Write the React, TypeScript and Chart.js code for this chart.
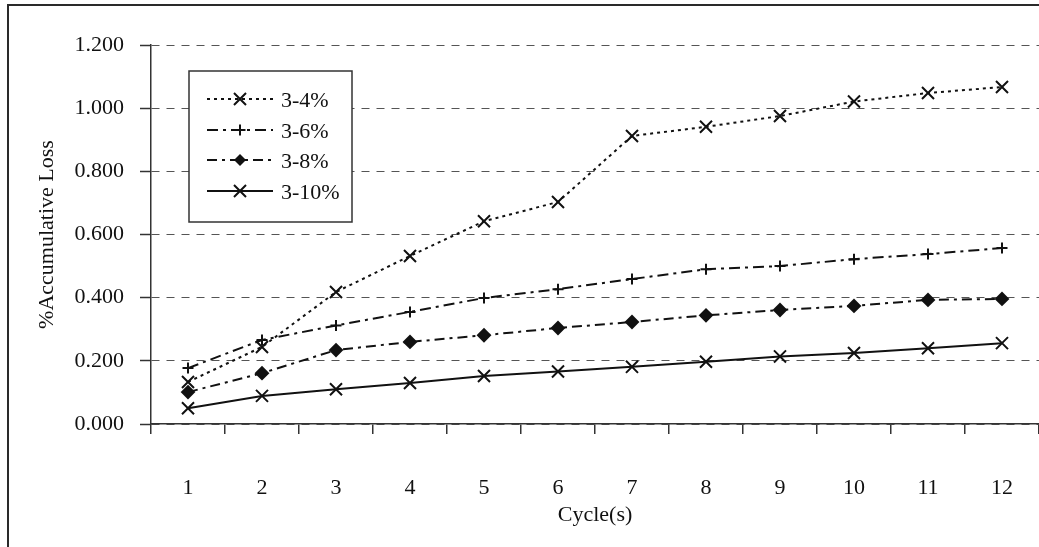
import { useEffect, useRef } from 'react';
import { Chart, registerables } from 'chart.js';

Chart.register(...registerables);

// Cycle numbers on the category axis
const cycles = ['1', '2', '3', '4', '5', '6', '7', '8', '9', '10', '11', '12'];

// Accumulative loss (%) per cycle for each mix
const loss3to4 = [0.133, 0.244, 0.418, 0.532, 0.642, 0.703, 0.912, 0.941, 0.975, 1.021, 1.048, 1.067];
const loss3to6 = [0.177, 0.266, 0.312, 0.355, 0.399, 0.427, 0.459, 0.490, 0.500, 0.522, 0.538, 0.557];
const loss3to8 = [0.101, 0.161, 0.234, 0.260, 0.281, 0.304, 0.323, 0.344, 0.361, 0.374, 0.393, 0.396];
const loss3to10 = [0.050, 0.089, 0.110, 0.130, 0.152, 0.166, 0.181, 0.197, 0.214, 0.225, 0.240, 0.256];

const seriesNames = ['3-4%', '3-6%', '3-8%', '3-10%'];

// Y axis range and tick step
const yMin = 0;
const yMax = 1.2;
const yStep = 0.2;

const FONT = '"Liberation Serif", "Times New Roman", serif';
const INK = '#111';
const AXIS = '#333';

type Marker = 'crossRot' | 'cross' | 'rectRot' | 'none';

function drawMarker(ctx: CanvasRenderingContext2D, style: Marker, x: number, y: number, r: number) {
  ctx.beginPath();
  if (style === 'crossRot') {
    const d = r * Math.SQRT1_2;
    ctx.moveTo(x - d, y - d);
    ctx.lineTo(x + d, y + d);
    ctx.moveTo(x - d, y + d);
    ctx.lineTo(x + d, y - d);
    ctx.stroke();
  } else if (style === 'cross') {
    ctx.moveTo(x - r, y);
    ctx.lineTo(x + r, y);
    ctx.moveTo(x, y - r);
    ctx.lineTo(x, y + r);
    ctx.stroke();
  } else if (style === 'rectRot') {
    ctx.moveTo(x - r, y);
    ctx.lineTo(x, y - r);
    ctx.lineTo(x + r, y);
    ctx.lineTo(x, y + r);
    ctx.closePath();
    ctx.fill();
  }
}

// Page frame behind the plot
const framePlugin = {
  id: 'frame',
  beforeDraw(chart: Chart) {
    const { ctx, width, height } = chart;
    ctx.save();
    ctx.fillStyle = '#fff';
    ctx.fillRect(0, 0, width, height);
    ctx.strokeStyle = '#2a2a2a';
    ctx.lineWidth = 2;
    ctx.beginPath();
    ctx.moveTo(8, height);
    ctx.lineTo(8, 5);
    ctx.lineTo(width, 5);
    ctx.stroke();
    ctx.restore();
  },
};

// Boxed legend sitting inside the plot area
const boxLegendPlugin = {
  id: 'boxLegend',
  afterDatasetsDraw(chart: Chart) {
    const { ctx } = chart;
    const bx = 189;
    const by = 71;
    const bw = 163;
    const bh = 151;
    const rows = [99, 130, 160, 191];
    ctx.save();
    ctx.fillStyle = '#fff';
    ctx.fillRect(bx, by, bw, bh);
    ctx.strokeStyle = AXIS;
    ctx.lineWidth = 1.5;
    ctx.strokeRect(bx, by, bw, bh);

    chart.data.datasets.forEach((ds: any, i: number) => {
      const y = rows[i];
      ctx.strokeStyle = INK;
      ctx.fillStyle = INK;
      ctx.lineWidth = ds.borderWidth;
      ctx.setLineDash(ds.borderDash || []);
      ctx.beginPath();
      ctx.moveTo(207, y);
      ctx.lineTo(273, y);
      ctx.stroke();
      ctx.setLineDash([]);
      ctx.lineWidth = ds.pointBorderWidth;
      drawMarker(ctx, ds.pointStyle, 240, y, ds.pointRadius);
      ctx.font = `22px ${FONT}`;
      ctx.textAlign = 'left';
      ctx.textBaseline = 'middle';
      ctx.fillText(ds.label, 281, y + 2);
    });
    ctx.restore();
  },
};

export default function App() {
  const canvasRef = useRef<HTMLCanvasElement>(null);

  useEffect(() => {
    const canvas = canvasRef.current;
    if (!canvas) return;

    const common = {
      borderColor: INK,
      pointBorderColor: INK,
      pointBackgroundColor: INK,
      borderWidth: 2,
      pointBorderWidth: 2,
      tension: 0,
      fill: false,
    };

    const chart = new Chart(canvas, {
      type: 'line',
      data: {
        labels: cycles,
        datasets: [
          { ...common, label: seriesNames[0], data: loss3to4, borderDash: [3, 4], pointStyle: 'crossRot', pointRadius: 8.5 },
          { ...common, label: seriesNames[1], data: loss3to6, borderDash: [11, 5, 3, 5], pointStyle: 'cross', pointRadius: 5.5 },
          { ...common, label: seriesNames[2], data: loss3to8, borderDash: [10, 5, 3, 5], pointStyle: 'rectRot', pointRadius: 6 },
          { ...common, label: seriesNames[3], data: loss3to10, borderDash: [], pointStyle: 'crossRot', pointRadius: 8.5 },
        ],
      },
      options: {
        responsive: false,
        maintainAspectRatio: false,
        devicePixelRatio: 1,
        animation: false,
        events: [],
        layout: { autoPadding: false, padding: { top: 45, right: 0, bottom: 0, left: 0 } },
        plugins: {
          legend: { display: false },
          tooltip: { enabled: false },
          title: { display: false },
        },
        scales: {
          x: {
            type: 'category',
            offset: true,
            afterFit(scale: any) {
              scale.height = 123;
              scale.paddingLeft = 0;
              scale.paddingRight = 0;
            },
            grid: {
              offset: true,
              drawOnChartArea: false,
              drawTicks: true,
              tickLength: 10,
              color: AXIS,
              lineWidth: 1.5,
            },
            border: { display: true, color: AXIS, width: 1.5 },
            ticks: {
              color: INK,
              font: { family: FONT, size: 22 },
              padding: 41,
              maxRotation: 0,
              autoSkip: false,
            },
            title: {
              display: true,
              text: 'Cycle(s)',
              color: INK,
              font: { family: FONT, size: 22 },
              padding: { top: 0, bottom: 19 },
            },
          },
          y: {
            min: yMin,
            max: yMax,
            afterFit(scale: any) {
              scale.width = 151;
              scale.paddingTop = 0;
              scale.paddingBottom = 0;
            },
            grid: {
              color: '#555',
              lineWidth: 1,
              drawTicks: true,
              tickLength: 11,
              tickColor: AXIS,
              tickWidth: 1.5,
              tickBorderDash: [],
            },
            border: { display: true, color: AXIS, width: 1.5, dash: [8, 7] },
            ticks: {
              stepSize: yStep,
              color: INK,
              font: { family: FONT, size: 22 },
              padding: 16,
              callback: (v: any) => Number(v).toFixed(3),
            },
            title: {
              display: true,
              text: '%Accumulative Loss',
              color: INK,
              font: { family: FONT, size: 22 },
              padding: { top: 34, bottom: 0 },
            },
          },
        },
      },
      plugins: [framePlugin, boxLegendPlugin],
    } as any);

    return () => chart.destroy();
  }, []);

  return (
    <div style={{ position: 'fixed', left: 0, top: 0, width: 1039, height: 547, background: '#fff' }}>
      <canvas ref={canvasRef} width={1039} height={547} style={{ display: 'block', width: 1039, height: 547 }} />
    </div>
  );
}
